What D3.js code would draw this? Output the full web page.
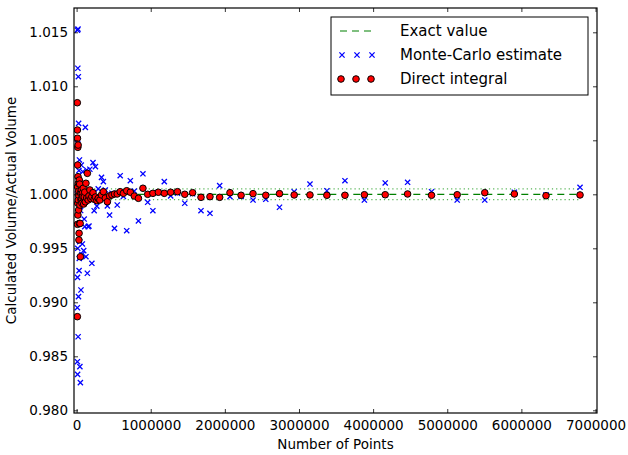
<!DOCTYPE html>
<html>
<head>
<meta charset="utf-8">
<script src="https://cdnjs.cloudflare.com/ajax/libs/d3/7.8.5/d3.min.js"></script>
<style>
    body { margin: 0; background: #fff; }
    #chart text { font-family: "DejaVu Sans", sans-serif; fill: #000; }
</style>
</head>
<body>
<div id="chart"></div>
<script>
// Number of points used for each estimate
const nPoints = [9500, 10200, 10900, 11700, 12600, 13500, 14500, 15500, 16700, 17900,
    19200, 20600, 22000, 23600, 25400, 27200, 29200, 31300, 33500, 36000,
    38600, 41400, 44400, 47600, 51000, 54700, 58700, 62900, 67500, 72400,
    77600, 83200, 89200, 95700, 102600,
    110000, 118000, 126000, 136000, 145000, 156000, 167000, 179000, 192000, 206000,
    221000, 237000, 254000, 273000, 292000, 314000, 336000, 361000, 387000, 415000,
    445000, 477000, 511000, 548000, 588000, 631000, 676000, 725000, 778000, 834000,
    895000, 959000, 1029000, 1103000, 1183000, 1269000, 1361000, 1459000, 1565000, 1678000,
    1799000, 1930000, 2069000, 2219000, 2380000, 2552000, 2737000, 2935000, 3148000, 3376000,
    3620000, 3882000, 4163000, 4465000, 4788000, 5134000, 5506000, 5905000, 6332000, 6791000];

// Direct integral / actual volume
const directIntegral = [1.00848, 0.98867, 1.00595, 1.00519, 0.99722, 1.0007, 1.00271, 0.99917, 1.00435, 0.99808,
    1.00163, 1.00456, 0.99947, 1.00102, 0.99994, 0.99855, 1.0003, 0.99577, 0.99639, 1.00132,
    0.99731, 1.00095, 0.9990, 0.9973, 0.99422, 1.00015, 0.9995, 1.0004, 0.9996, 0.99917,
    1.0001, 0.99978, 1.00056, 0.9991, 0.99975,
    1.0002, 0.9993, 1.00102, 0.99965, 1.00194, 0.99947, 0.99985, 1.0004, 0.9996, 0.99978,
    1.00015, 0.99955, 0.99975, 0.99941, 0.99962, 0.99947, 0.99994, 1.00024, 0.99965, 0.99931,
    0.99985, 0.99994, 1.00003, 1.00003, 1.00024, 1.00009, 1.00033, 1.00019, 0.99984, 0.99963,
    1.00056, 1.0000, 1.00009, 1.00019, 1.00009, 1.00019, 1.00024, 1.0000, 1.00015, 0.99972,
    0.99978, 0.99972, 1.00015, 0.99991, 1.00006, 0.99991, 1.00006, 0.99994, 0.99994, 0.99991,
    0.99991, 0.99996, 0.99996, 1.00003, 0.99991, 0.99996, 1.00015, 1.00003, 0.99987, 0.99994];

// Monte-Carlo estimate / actual volume
const monteCarlo = [1.0004, 0.9895, 0.9845, 1.0152, 0.99231, 0.98333, 1.00509, 0.995, 1.01167, 0.99947,
    1.0153, 0.98681, 1.0003, 1.01089, 0.99052, 1.00657, 0.9994, 1.0022, 0.99293, 0.99407,
    1.00318, 0.99561, 0.98404, 1.0009, 0.98256, 0.9985, 0.99114, 1.00271, 1.0001, 0.99441,
    0.9954, 1.00209, 0.9998, 0.99478, 0.99771,
    0.997, 1.0062, 0.99422, 1.00225, 0.99269, 0.997, 0.99706, 1.00232, 0.9995, 0.99361,
    1.00293, 0.99848, 1.00256, 0.9989, 1.0005, 0.9996, 1.00157, 1.00117, 1.0004, 0.99892,
    0.99808, 1.0001, 0.99685, 0.99901, 1.00172, 0.9998, 0.99663, 1.00126, 1.0003, 0.99753,
    1.0019, 0.99926, 0.99848, 1.0002, 1.00117, 0.99985, 1.0001, 0.99917, 1.00005, 0.99848,
    0.99824, 1.0008, 0.99978, 0.9998, 0.99947, 0.99954, 0.9988, 1.00024, 1.00095, 1.00033,
    1.00126, 0.99947, 1.00105, 1.00111, 1.00024, 0.99947, 0.99947, 1.00019, 0.99994, 1.00065];

const exactValue = 1.0;
const tolerance = 0.0005;
const xTicks = [0, 1000000, 2000000, 3000000, 4000000, 5000000, 6000000, 7000000];
const yTicks = [0.980, 0.985, 0.990, 0.995, 1.000, 1.005, 1.010, 1.015];
const legendLabels = ["Exact value", "Monte-Carlo estimate", "Direct integral"];

const totalW = 628, totalH = 455;
const margin = {top: 8, right: 31, bottom: 42, left: 74};
const width = totalW - margin.left - margin.right;
const height = totalH - margin.top - margin.bottom;

let svg = d3.select("#chart").append("svg")
    .attr("width", totalW)
    .attr("height", totalH);

let g = svg.append("g").attr("transform", "translate(" + margin.left + "," + margin.top + ")");

let x = d3.scaleLinear().domain([-35000, 7020000]).range([0, width]);
let y = d3.scaleLinear().domain([0.97975, 1.01725]).range([height, 0]);

let clip = svg.append("clipPath").attr("id", "plot-clip")
    .append("rect").attr("width", width).attr("height", height);

let plot = g.append("g").attr("clip-path", "url(#plot-clip)");

const xMin = d3.min(nPoints), xMax = d3.max(nPoints);

// exact value and tolerance band
plot.append("line")
    .attr("x1", x(xMin)).attr("x2", x(xMax))
    .attr("y1", y(exactValue)).attr("y2", y(exactValue))
    .attr("stroke", "#008000").attr("stroke-width", 1.2)
    .attr("stroke-dasharray", "7,5");

[exactValue + tolerance, exactValue - tolerance].forEach(v => {
    plot.append("line")
        .attr("x1", x(xMin)).attr("x2", x(xMax))
        .attr("y1", y(v)).attr("y2", y(v))
        .attr("stroke", "#2ca02c").attr("stroke-opacity", 0.8).attr("stroke-width", 1.2)
        .attr("stroke-dasharray", "1.2,3");
});

// crosses for monte carlo
const s = 2.6;
function crossPath(cx, cy) {
    return "M" + (cx - s) + "," + (cy - s) + "L" + (cx + s) + "," + (cy + s) +
        "M" + (cx - s) + "," + (cy + s) + "L" + (cx + s) + "," + (cy - s);
}

plot.append("g").selectAll("path")
    .data(nPoints.map((n, i) => ({n: n, v: monteCarlo[i]})))
    .enter().append("path")
    .attr("d", d => crossPath(x(d.n), y(d.v)))
    .attr("stroke", "#0000ff").attr("stroke-width", 1.3).attr("fill", "none");

plot.append("g").selectAll("circle")
    .data(nPoints.map((n, i) => ({n: n, v: directIntegral[i]})))
    .enter().append("circle")
    .attr("cx", d => x(d.n))
    .attr("cy", d => y(d.v))
    .attr("r", 3.3)
    .attr("fill", "#ff0000").attr("stroke", "#000").attr("stroke-width", 1);

// axes, ticks inside on all four sides
function styleAxis(sel) {
    sel.select(".domain").remove();
    sel.selectAll(".tick line").attr("stroke", "#000").attr("stroke-width", 0.8);
    sel.selectAll(".tick text").attr("font-size", "13.5px");
}

g.append("g")
    .attr("transform", "translate(0," + height + ")")
    .call(d3.axisBottom(x).tickValues(xTicks).tickFormat(d3.format("d")).tickSizeInner(-4).tickSizeOuter(0).tickPadding(7))
    .call(styleAxis);
g.append("g")
    .call(d3.axisTop(x).tickValues(xTicks).tickFormat("").tickSizeInner(-4).tickSizeOuter(0))
    .call(styleAxis);
g.append("g")
    .call(d3.axisLeft(y).tickValues(yTicks).tickFormat(d3.format(".3f")).tickSizeInner(-4).tickSizeOuter(0).tickPadding(6))
    .call(styleAxis);
g.append("g")
    .attr("transform", "translate(" + width + ",0)")
    .call(d3.axisRight(y).tickValues(yTicks).tickFormat("").tickSizeInner(-4).tickSizeOuter(0))
    .call(styleAxis);

g.append("rect")
    .attr("width", width).attr("height", height)
    .attr("fill", "none").attr("stroke", "#000").attr("stroke-width", 1.2);

// axis labels
g.append("text")
    .attr("x", width / 2).attr("y", height + 36)
    .attr("text-anchor", "middle").attr("font-size", "13.5px")
    .text("Number of Points");

g.append("text")
    .attr("transform", "translate(" + (-58) + "," + (height / 2) + ") rotate(-90)")
    .attr("text-anchor", "middle").attr("font-size", "13.5px")
    .text("Calculated Volume/Actual Volume");

// legend
let legend = g.append("g").attr("transform", "translate(" + (331 - margin.left) + "," + (17 - margin.top) + ")");
legend.append("rect")
    .attr("width", 257).attr("height", 78)
    .attr("fill", "#fff").attr("stroke", "#000").attr("stroke-width", 1);

const rowY = [14, 38, 62];
const mx = [10, 25, 40];

legend.append("line")
    .attr("x1", 5).attr("x2", 45).attr("y1", rowY[0]).attr("y2", rowY[0])
    .attr("stroke", "#008000").attr("stroke-width", 1.2).attr("stroke-dasharray", "7,5")
    .attr("stroke-dashoffset", -4);

legend.selectAll(".mc").data(mx).enter().append("path")
    .attr("d", d => crossPath(d + 1, rowY[1]))
    .attr("stroke", "#0000ff").attr("stroke-width", 1.3).attr("fill", "none");

legend.selectAll(".di").data(mx).enter().append("circle")
    .attr("cx", d => d).attr("cy", rowY[2]).attr("r", 3.3)
    .attr("fill", "#ff0000").attr("stroke", "#000").attr("stroke-width", 1);

legend.selectAll(".lbl").data(legendLabels).enter().append("text")
    .attr("x", 69).attr("y", (d, i) => rowY[i])
    .attr("dy", "0.36em")
    .attr("font-size", "15px")
    .text(d => d);
</script>
</body>
</html>
